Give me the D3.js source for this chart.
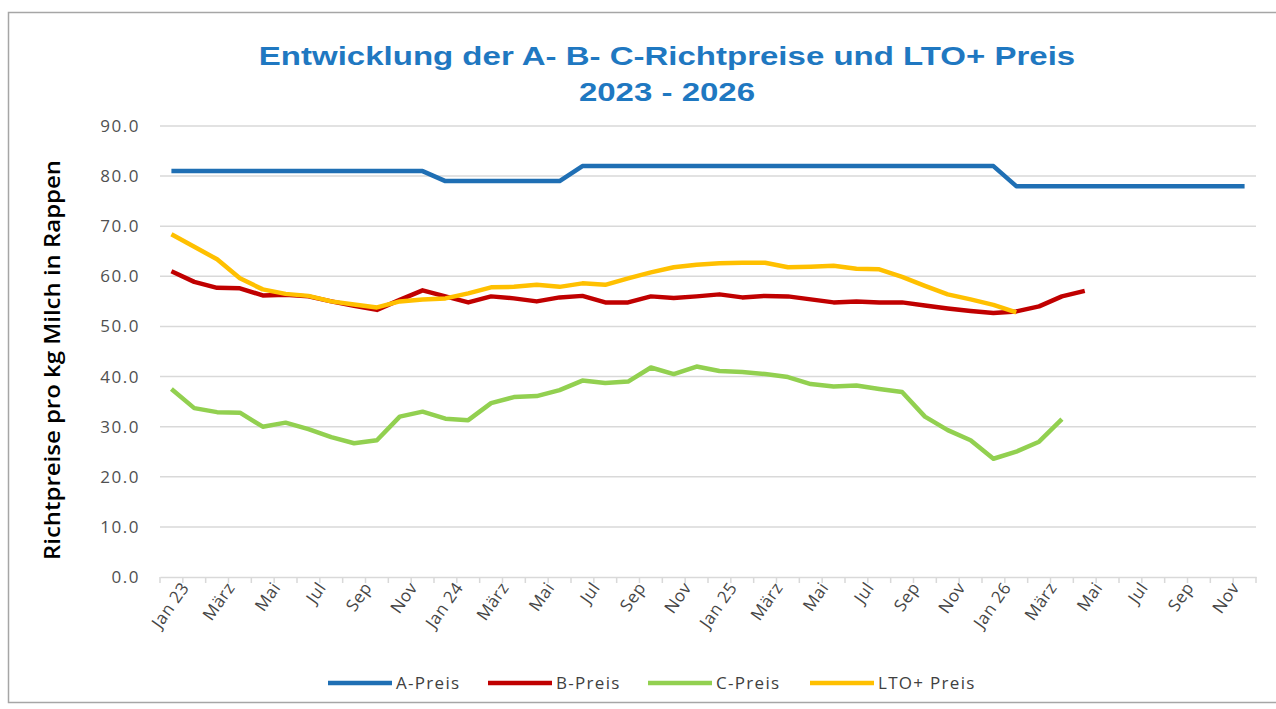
<!DOCTYPE html>
<html>
<head>
<meta charset="utf-8">
<script src="https://cdn.jsdelivr.net/npm/d3@7"></script>
<style>
  body { margin: 0; background: #fff; }
  svg { display: block; }
</style>
</head>
<body>
<div id="chart"></div>
<script>
'use strict'

// months Jan 2023 .. Dec 2026
const monthNames = ['Jan', 'Feb', 'März', 'Apr', 'Mai', 'Jun', 'Jul', 'Aug', 'Sep', 'Okt', 'Nov', 'Dez']
const years = ['23', '24', '25', '26']
const months = []
years.forEach(y => monthNames.forEach((m, i) => months.push(i === 0 ? m + ' ' + y : m)))

const aPreis = [81, 81, 81, 81, 81, 81, 81, 81, 81, 81, 81, 81,
  79, 79, 79, 79, 79, 79, 82, 82, 82, 82, 82, 82,
  82, 82, 82, 82, 82, 82, 82, 82, 82, 82, 82, 82,
  82, 78, 78, 78, 78, 78, 78, 78, 78, 78, 78, 78]
const bPreis = [61, 58.9, 57.7, 57.6, 56.2, 56.3, 56, 55, 54.1, 53.3, 55.3, 57.2,
  56, 54.8, 56, 55.6, 55, 55.8, 56.1, 54.8, 54.8, 56, 55.7, 56,
  56.4, 55.8, 56.1, 56, 55.4, 54.8, 55, 54.8, 54.8, 54.2, 53.6, 53.1,
  52.7, 53, 54, 56, 57.1]
const cPreis = [37.5, 33.7, 32.9, 32.8, 30, 30.8, 29.5, 27.9, 26.7, 27.3, 32, 33,
  31.6, 31.3, 34.7, 35.9, 36.1, 37.3, 39.2, 38.7, 39, 41.8, 40.5, 42,
  41.1, 40.9, 40.5, 39.9, 38.5, 38, 38.2, 37.5, 36.9, 32, 29.3, 27.3,
  23.6, 25, 27, 31.5]
const ltoPreis = [68.4, 65.9, 63.4, 59.6, 57.4, 56.5, 56.1, 55, 54.4, 53.8, 55, 55.4,
  55.6, 56.6, 57.8, 57.9, 58.3, 57.9, 58.6, 58.3, 59.6, 60.8, 61.8, 62.3,
  62.6, 62.7, 62.7, 61.8, 61.9, 62.1, 61.5, 61.4, 59.9, 58.1, 56.4, 55.4,
  54.3, 52.8]

const seriesNames = ['A-Preis', 'B-Preis', 'C-Preis', 'LTO+ Preis']
const seriesColors = ['#1f6fb4', '#c00000', '#92d050', '#ffc000']
const yTicks = [0, 10, 20, 30, 40, 50, 60, 70, 80, 90]

const width = 1276, height = 709
const margin = { left: 160, right: 20, top: 126, bottom: 132 }

const svg = d3.select('#chart').append('svg')
  .attr('width', width)
  .attr('height', height)

// chart frame
svg.append('rect')
  .attr('x', 8.5).attr('y', 12.5)
  .attr('width', 1300).attr('height', 690)
  .attr('fill', 'none')
  .attr('stroke', '#a6a6a6')
  .attr('stroke-width', 1.5)

// month index as band key, since names repeat every year
const x = d3.scaleBand()
  .domain(d3.range(months.length))
  .range([margin.left, width - margin.right])
const y = d3.scaleLinear()
  .domain([0, 90])
  .range([height - margin.bottom, margin.top])

const cx = i => x(i) + x.bandwidth() / 2

// title (source picture is stretched wide, so stretch the text too)
const title = svg.append('g')
  .attr('transform', 'translate(667,0) scale(1.27,1)')
  .append('text')
  .attr('text-anchor', 'middle')
  .attr('fill', '#1f78c1')
  .attr('font-family', 'Liberation Sans, Arial, sans-serif')
  .attr('font-weight', 'bold')
  .attr('font-size', 26)
title.append('tspan').attr('x', 0).attr('y', 65).text('Entwicklung der A- B- C-Richtpreise und LTO+ Preis')
title.append('tspan').attr('x', 0).attr('y', 101).text('2023 - 2026')

// gridlines
svg.append('g')
  .selectAll('line')
  .data(yTicks.filter(d => d > 0))
  .join('line')
  .attr('x1', margin.left).attr('x2', width - margin.right)
  .attr('y1', d => y(d)).attr('y2', d => y(d))
  .attr('stroke', '#d9d9d9')
  .attr('stroke-width', 1.5)

// y axis labels
const yAxis = svg.append('g')
  .attr('transform', `translate(${margin.left},0)`)
  .call(d3.axisLeft(y).tickValues(yTicks).tickFormat(d3.format('.1f')).tickSize(0).tickPadding(20))
yAxis.select('.domain').remove()
yAxis.selectAll('text')
  .attr('font-family', 'Open Sans, sans-serif')
  .attr('font-size', 17)
  .attr('letter-spacing', 1.5)
  .attr('fill', '#505050')

// x axis
const xAxis = svg.append('g')
  .attr('transform', `translate(0,${y(0)})`)
  .call(d3.axisBottom(x).tickSize(0).tickFormat(i => i % 2 === 0 ? months[i] : ''))
xAxis.select('.domain')
  .attr('stroke', '#d9d9d9')
  .attr('stroke-width', 1.5)
xAxis.selectAll('text')
  .attr('font-family', 'Open Sans, sans-serif')
  .attr('font-size', 17)
  .attr('letter-spacing', 0.5)
  .attr('fill', '#454545')
  .attr('text-anchor', 'end')
  .attr('transform', 'translate(9,4) rotate(-55)')
  .attr('dy', '0.5em')

// tick marks at month boundaries
svg.append('g')
  .selectAll('line')
  .data(d3.range(months.length + 1))
  .join('line')
  .attr('x1', i => margin.left + i * x.step())
  .attr('x2', i => margin.left + i * x.step())
  .attr('y1', y(0)).attr('y2', y(0) + 6)
  .attr('stroke', '#d9d9d9')
  .attr('stroke-width', 1.5)

// y axis title
svg.append('text')
  .attr('transform', 'translate(60,360) rotate(-90)')
  .attr('text-anchor', 'middle')
  .attr('font-family', 'Open Sans, sans-serif')
  .attr('font-size', 22)
  .attr('font-weight', 600)
  .attr('textLength', 400)
  .attr('lengthAdjust', 'spacingAndGlyphs')
  .attr('fill', '#000')
  .text('Richtpreise pro kg Milch in Rappen')

// lines
const line = d3.line()
  .x((d, i) => cx(i))
  .y(d => y(d))

const allSeries = [aPreis, bPreis, cPreis, ltoPreis]
svg.append('g')
  .selectAll('path')
  .data(allSeries)
  .join('path')
  .attr('d', d => line(d))
  .attr('fill', 'none')
  .attr('stroke', (d, i) => seriesColors[i])
  .attr('stroke-width', 4.5)
  .attr('stroke-linejoin', 'round')

// legend
const legendX = [328, 488, 648, 810]
const legend = svg.append('g')
  .selectAll('g')
  .data(seriesNames)
  .join('g')
  .attr('transform', (d, i) => `translate(${legendX[i]},683)`)
legend.append('line')
  .attr('x1', 0).attr('x2', 64)
  .attr('stroke', (d, i) => seriesColors[i])
  .attr('stroke-width', 4.5)
legend.append('text')
  .attr('x', 68).attr('dy', '0.35em')
  .attr('font-family', 'Open Sans, sans-serif')
  .attr('font-size', 17)
  .attr('letter-spacing', 1.3)
  .attr('fill', '#404040')
  .text(d => d)
</script>
</body>
</html>
